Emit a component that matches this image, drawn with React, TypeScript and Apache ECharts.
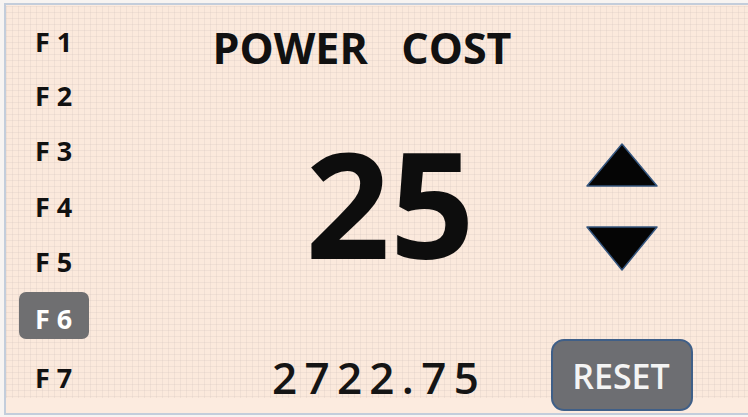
import React, { useEffect, useRef } from "react";
import * as echarts from "echarts";

const functionKeys = ["F 1", "F 2", "F 3", "F 4", "F 5", "F 6", "F 7"];
const keyCenters = [41, 95, 150, 206, 261, 318, 377];
const selectedKey = 5;
const titleText = "POWER   COST";
const costValue = ["25"];
const totalValue = ["2722.75"];
const resetLabel = ["RESET"];

const FONT = "'Open Sans', 'Noto Sans', sans-serif";

function makePattern(): string {
  const c = document.createElement("canvas");
  c.width = 6;
  c.height = 6;
  const ctx = c.getContext("2d")!;
  ctx.fillStyle = "#fbe9dc";
  ctx.fillRect(0, 0, 6, 6);
  ctx.fillStyle = "rgba(200,185,178,0.2)";
  ctx.fillRect(0, 0, 6, 1);
  ctx.fillRect(0, 0, 1, 6);
  return c.toDataURL();
}

function spacedChars(text: string, font: string, startX: number, spacing: number) {
  const c = document.createElement("canvas");
  const ctx = c.getContext("2d")!;
  ctx.font = font;
  const out: { ch: string; x: number }[] = [];
  let x = startX;
  for (const ch of text) {
    out.push({ ch, x });
    x += ctx.measureText(ch).width + spacing;
  }
  return out;
}

export default function App() {
  const ref = useRef<HTMLDivElement>(null);
  useEffect(() => {
    if (!ref.current) return;
    const chart = echarts.init(ref.current, null, { renderer: "svg" });
    const pattern = makePattern();
    const elements: any[] = [];

    elements.push({
      type: "rect",
      shape: { x: 5, y: 4, width: 760, height: 410 },
      style: { fill: "#fcebdf", stroke: "#c3cddb", lineWidth: 2 },
    });
    elements.push({
      type: "rect",
      shape: { x: 6, y: 6, width: 742, height: 392 },
      style: { fill: { image: pattern, repeat: "repeat" } as any },
    });

    // selected key highlight
    elements.push({
      type: "rect",
      shape: { x: 19, y: 292, width: 70, height: 47, r: 7 },
      style: { fill: "#6f6f71" },
    });

    functionKeys.forEach((k, i) => {
      elements.push({
        type: "text",
        x: 35,
        y: keyCenters[i],
        style: {
          text: k,
          font: `700 27px ${FONT}`,
          fill: i === selectedKey ? "#ffffff" : "#111111",
          align: "left",
          verticalAlign: "middle",
        },
      });
    });

    elements.push({
      type: "text",
      x: 362,
      y: 47,
      style: {
        text: titleText,
        font: `700 43px ${FONT}`,
        fill: "#111111",
        align: "center",
        verticalAlign: "middle",
      },
    });

    elements.push({
      type: "text",
      x: 390,
      y: 201,
      style: {
        text: costValue[0],
        font: `700 148px ${FONT}`,
        fill: "#0d0d0d",
        align: "center",
        verticalAlign: "middle",
      },
    });

    const totalFont = `600 44px ${FONT}`;
    spacedChars(totalValue[0], totalFont, 272, 7.3).forEach((c) => {
      elements.push({
        type: "text",
        x: c.x,
        y: 377,
        style: {
          text: c.ch,
          font: totalFont,
          fill: "#151515",
          align: "left",
          verticalAlign: "middle",
        },
      });
    });

    // arrows
    elements.push({
      type: "polygon",
      shape: { points: [[622, 144], [657, 186], [587, 186]] },
      style: { fill: "#050505", stroke: "#34557e", lineWidth: 1.5, lineJoin: "round" },
    });
    elements.push({
      type: "polygon",
      shape: { points: [[587, 227], [657, 227], [622, 270]] },
      style: { fill: "#050505", stroke: "#34557e", lineWidth: 1.5, lineJoin: "round" },
    });

    // reset button
    elements.push({
      type: "rect",
      shape: { x: 552, y: 340, width: 140, height: 70, r: 12 },
      style: { fill: "#6d6e72", stroke: "#3f5f88", lineWidth: 2 },
    });
    elements.push({
      type: "text",
      x: 621,
      y: 376,
      style: {
        text: resetLabel[0],
        font: `600 34px ${FONT}`,
        fill: "#f4f4f4",
        align: "center",
        verticalAlign: "middle",
      },
    });

    chart.setOption({
      animation: false,
      backgroundColor: "#f7f4f2",
      graphic: { elements },
    });
    return () => chart.dispose();
  }, []);
  return (
    <div
      ref={ref}
      style={{ position: "fixed", left: 0, top: 0, width: 748, height: 417 }}
    />
  );
}
